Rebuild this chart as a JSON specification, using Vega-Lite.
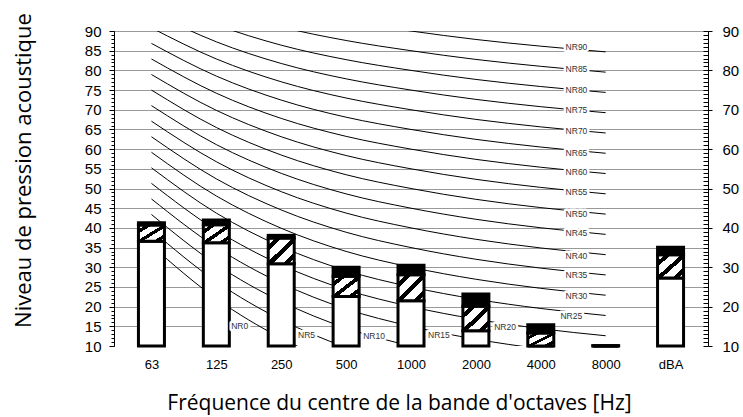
{
  "$schema": "https://vega.github.io/schema/vega-lite/v6.json",
  "autosize": {"type": "none"},
  "width": 594,
  "height": 315,
  "padding": {"left": 114, "top": 31, "right": 35, "bottom": 71},
  "background": "white",
  "config": {"view": {"stroke": null}},
  "datasets": {
    "curves": [
      {"n":"NR0","i":0,"L":35.5},{"n":"NR0","i":1,"L":22},{"n":"NR0","i":2,"L":12},{"n":"NR0","i":3,"L":4.8},{"n":"NR0","i":4,"L":0},{"n":"NR0","i":5,"L":-3.5},{"n":"NR0","i":6,"L":-6.1},{"n":"NR0","i":7,"L":-8},
      {"n":"NR5","i":0,"L":39.45},{"n":"NR5","i":1,"L":26.35},{"n":"NR5","i":2,"L":16.65},{"n":"NR5","i":3,"L":9.67},{"n":"NR5","i":4,"L":5},{"n":"NR5","i":5,"L":1.58},{"n":"NR5","i":6,"L":-0.98},{"n":"NR5","i":7,"L":-2.85},
      {"n":"NR10","i":0,"L":43.4},{"n":"NR10","i":1,"L":30.7},{"n":"NR10","i":2,"L":21.3},{"n":"NR10","i":3,"L":14.54},{"n":"NR10","i":4,"L":10},{"n":"NR10","i":5,"L":6.65},{"n":"NR10","i":6,"L":4.15},{"n":"NR10","i":7,"L":2.3},
      {"n":"NR15","i":0,"L":47.35},{"n":"NR15","i":1,"L":35.05},{"n":"NR15","i":2,"L":25.95},{"n":"NR15","i":3,"L":19.41},{"n":"NR15","i":4,"L":15},{"n":"NR15","i":5,"L":11.73},{"n":"NR15","i":6,"L":9.28},{"n":"NR15","i":7,"L":7.45},
      {"n":"NR20","i":0,"L":51.3},{"n":"NR20","i":1,"L":39.4},{"n":"NR20","i":2,"L":30.6},{"n":"NR20","i":3,"L":24.28},{"n":"NR20","i":4,"L":20},{"n":"NR20","i":5,"L":16.8},{"n":"NR20","i":6,"L":14.4},{"n":"NR20","i":7,"L":12.6},
      {"n":"NR25","i":0,"L":55.25},{"n":"NR25","i":1,"L":43.75},{"n":"NR25","i":2,"L":35.25},{"n":"NR25","i":3,"L":29.15},{"n":"NR25","i":4,"L":25},{"n":"NR25","i":5,"L":21.88},{"n":"NR25","i":6,"L":19.53},{"n":"NR25","i":7,"L":17.75},
      {"n":"NR30","i":0,"L":59.2},{"n":"NR30","i":1,"L":48.1},{"n":"NR30","i":2,"L":39.9},{"n":"NR30","i":3,"L":34.02},{"n":"NR30","i":4,"L":30},{"n":"NR30","i":5,"L":26.95},{"n":"NR30","i":6,"L":24.65},{"n":"NR30","i":7,"L":22.9},
      {"n":"NR35","i":0,"L":63.15},{"n":"NR35","i":1,"L":52.45},{"n":"NR35","i":2,"L":44.55},{"n":"NR35","i":3,"L":38.89},{"n":"NR35","i":4,"L":35},{"n":"NR35","i":5,"L":32.03},{"n":"NR35","i":6,"L":29.78},{"n":"NR35","i":7,"L":28.05},
      {"n":"NR40","i":0,"L":67.1},{"n":"NR40","i":1,"L":56.8},{"n":"NR40","i":2,"L":49.2},{"n":"NR40","i":3,"L":43.76},{"n":"NR40","i":4,"L":40},{"n":"NR40","i":5,"L":37.1},{"n":"NR40","i":6,"L":34.9},{"n":"NR40","i":7,"L":33.2},
      {"n":"NR45","i":0,"L":71.05},{"n":"NR45","i":1,"L":61.15},{"n":"NR45","i":2,"L":53.85},{"n":"NR45","i":3,"L":48.63},{"n":"NR45","i":4,"L":45},{"n":"NR45","i":5,"L":42.18},{"n":"NR45","i":6,"L":40.03},{"n":"NR45","i":7,"L":38.35},
      {"n":"NR50","i":0,"L":75},{"n":"NR50","i":1,"L":65.5},{"n":"NR50","i":2,"L":58.5},{"n":"NR50","i":3,"L":53.5},{"n":"NR50","i":4,"L":50},{"n":"NR50","i":5,"L":47.25},{"n":"NR50","i":6,"L":45.15},{"n":"NR50","i":7,"L":43.5},
      {"n":"NR55","i":0,"L":78.95},{"n":"NR55","i":1,"L":69.85},{"n":"NR55","i":2,"L":63.15},{"n":"NR55","i":3,"L":58.37},{"n":"NR55","i":4,"L":55},{"n":"NR55","i":5,"L":52.33},{"n":"NR55","i":6,"L":50.28},{"n":"NR55","i":7,"L":48.65},
      {"n":"NR60","i":0,"L":82.9},{"n":"NR60","i":1,"L":74.2},{"n":"NR60","i":2,"L":67.8},{"n":"NR60","i":3,"L":63.24},{"n":"NR60","i":4,"L":60},{"n":"NR60","i":5,"L":57.4},{"n":"NR60","i":6,"L":55.4},{"n":"NR60","i":7,"L":53.8},
      {"n":"NR65","i":0,"L":86.85},{"n":"NR65","i":1,"L":78.55},{"n":"NR65","i":2,"L":72.45},{"n":"NR65","i":3,"L":68.11},{"n":"NR65","i":4,"L":65},{"n":"NR65","i":5,"L":62.48},{"n":"NR65","i":6,"L":60.53},{"n":"NR65","i":7,"L":58.95},
      {"n":"NR70","i":0,"L":90.8},{"n":"NR70","i":1,"L":82.9},{"n":"NR70","i":2,"L":77.1},{"n":"NR70","i":3,"L":72.98},{"n":"NR70","i":4,"L":70},{"n":"NR70","i":5,"L":67.55},{"n":"NR70","i":6,"L":65.65},{"n":"NR70","i":7,"L":64.1},
      {"n":"NR75","i":0,"L":94.75},{"n":"NR75","i":1,"L":87.25},{"n":"NR75","i":2,"L":81.75},{"n":"NR75","i":3,"L":77.85},{"n":"NR75","i":4,"L":75},{"n":"NR75","i":5,"L":72.63},{"n":"NR75","i":6,"L":70.78},{"n":"NR75","i":7,"L":69.25},
      {"n":"NR80","i":0,"L":98.7},{"n":"NR80","i":1,"L":91.6},{"n":"NR80","i":2,"L":86.4},{"n":"NR80","i":3,"L":82.72},{"n":"NR80","i":4,"L":80},{"n":"NR80","i":5,"L":77.7},{"n":"NR80","i":6,"L":75.9},{"n":"NR80","i":7,"L":74.4},
      {"n":"NR85","i":0,"L":102.65},{"n":"NR85","i":1,"L":95.95},{"n":"NR85","i":2,"L":91.05},{"n":"NR85","i":3,"L":87.59},{"n":"NR85","i":4,"L":85},{"n":"NR85","i":5,"L":82.78},{"n":"NR85","i":6,"L":81.03},{"n":"NR85","i":7,"L":79.55},
      {"n":"NR90","i":0,"L":106.6},{"n":"NR90","i":1,"L":100.3},{"n":"NR90","i":2,"L":95.7},{"n":"NR90","i":3,"L":92.46},{"n":"NR90","i":4,"L":90},{"n":"NR90","i":5,"L":87.85},{"n":"NR90","i":6,"L":86.15},{"n":"NR90","i":7,"L":84.7}
    ],
    "bars": [
      {"f":"63","i":0,"w":36.6,"h":40.7,"t":41.3},
      {"f":"125","i":1,"w":36.2,"h":40.8,"t":42.0},
      {"f":"250","i":2,"w":30.9,"h":37.4,"t":38.1},
      {"f":"500","i":3,"w":22.6,"h":27.7,"t":30.0},
      {"f":"1000","i":4,"w":21.5,"h":28.1,"t":30.5},
      {"f":"2000","i":5,"w":13.9,"h":20.1,"t":23.2},
      {"f":"4000","i":6,"w":10,"h":13.3,"t":15.4},
      {"f":"8000","i":7,"w":10,"h":10,"t":10.1},
      {"f":"dBA","i":8,"w":27.3,"h":33.2,"t":35.1}
    ],
    "labels": [
      {"n":"NR90","i":6.55,"y":85.9},
      {"n":"NR85","i":6.55,"y":80.4},
      {"n":"NR80","i":6.55,"y":75.1},
      {"n":"NR75","i":6.55,"y":70.0},
      {"n":"NR70","i":6.55,"y":64.5},
      {"n":"NR65","i":6.55,"y":59.0},
      {"n":"NR60","i":6.55,"y":54.1},
      {"n":"NR55","i":6.55,"y":49.0},
      {"n":"NR50","i":6.55,"y":43.6},
      {"n":"NR45","i":6.55,"y":38.6},
      {"n":"NR40","i":6.55,"y":32.8},
      {"n":"NR35","i":6.55,"y":28.1},
      {"n":"NR30","i":6.55,"y":22.8},
      {"n":"NR25","i":6.47,"y":17.6},
      {"n":"NR20","i":5.45,"y":14.7},
      {"n":"NR15","i":4.43,"y":12.7},
      {"n":"NR10","i":3.43,"y":12.5},
      {"n":"NR5","i":2.39,"y":12.7},
      {"n":"NR0","i":1.36,"y":15.0}
    ]
  },
  "encoding": {
    "x": {"field": "i", "type": "quantitative", "scale": {"domain": [-0.5, 8.5], "nice": false, "zero": false},
      "axis": {"values": [0,1,2,3,4,5,6,7,8], "labelExpr": "['63','125','250','500','1000','2000','4000','8000','dBA'][datum.value]", "ticks": false, "domain": false, "grid": false, "labelFont": "Liberation Sans", "labelFontSize": 13, "labelColor": "#000", "labelPadding": 12, "labelFlush": false, "labelOverlap": false,
        "title": "Fréquence du centre de la bande d'octaves [Hz]", "titleFont": "Open Sans", "titleFontSize": 21, "titleFontWeight": "normal", "titleColor": "#000", "titleX": 285, "titleY": 63, "titleAlign": "center", "titleBaseline": "alphabetic"}}
  },
  "resolve": {"axis": {"y": "independent"}},
  "layer": [
    {
      "data": {"name": "curves"},
      "mark": {"type": "line", "interpolate": "monotone", "color": "black", "strokeWidth": 1, "clip": true},
      "encoding": {
        "y": {"field": "L", "type": "quantitative", "scale": {"domain": [10, 90], "nice": false, "zero": false},
          "axis": {"orient": "left", "values": [10,15,20,25,30,35,40,45,50,55,60,65,70,75,80,85,90], "grid": false, "domainColor": "#000", "domainWidth": 1, "tickColor": "#000", "tickSize": 5, "labelPadding": 8, "labelFont": "Liberation Sans", "labelFontSize": 15, "labelColor": "#000", "labelFlush": false, "labelOverlap": false,
            "title": "Niveau de pression acoustique", "titleFont": "Open Sans", "titleFontSize": 22, "titleFontWeight": "normal", "titleColor": "#000", "titleX": -84, "titleY": 139, "titleAngle": 270, "titleAlign": "center", "titleBaseline": "alphabetic"}},
        "detail": {"field": "n"}
      }
    },
    {
      "data": {"name": "bars"},
      "mark": {"type": "bar", "width": 26, "fill": "white", "stroke": "black", "strokeWidth": 3, "strokeJoin": "miter"},
      "encoding": {
        "y": {"field": "w", "type": "quantitative", "scale": {"domain": [10, 90], "nice": false, "zero": false},
          "axis": {"orient": "left", "values": [15,20,25,30,35,40,45,50,55,60,65,70,75,80,85,90], "grid": true, "gridColor": "#999999", "gridWidth": 1, "ticks": false, "labels": false, "domain": false, "title": null}},
        "y2": {"datum": 10}
      }
    },
    {
      "data": {"name": "bars"},
      "mark": {"type": "bar", "width": 26, "stroke": "black", "strokeWidth": 3, "strokeJoin": "miter",
        "fill": {"gradient": "linear", "x1": 0, "y1": 0, "x2": 1, "y2": 1, "stops": [
          {"offset": 0, "color": "white"}, {"offset": 0.14, "color": "white"}, {"offset": 0.14, "color": "black"}, {"offset": 0.26, "color": "black"}, {"offset": 0.26, "color": "white"},
          {"offset": 0.46, "color": "white"}, {"offset": 0.46, "color": "black"}, {"offset": 0.58, "color": "black"}, {"offset": 0.58, "color": "white"},
          {"offset": 0.78, "color": "white"}, {"offset": 0.78, "color": "black"}, {"offset": 0.9, "color": "black"}, {"offset": 0.9, "color": "white"}, {"offset": 1, "color": "white"}]}},
      "encoding": {
        "y": {"field": "h", "type": "quantitative", "scale": {"domain": [10, 90], "nice": false, "zero": false},
          "axis": {"orient": "left", "values": [10,11,12,13,14,15,16,17,18,19,20,21,22,23,24,25,26,27,28,29,30,31,32,33,34,35,36,37,38,39,40,41,42,43,44,45,46,47,48,49,50,51,52,53,54,55,56,57,58,59,60,61,62,63,64,65,66,67,68,69,70,71,72,73,74,75,76,77,78,79,80,81,82,83,84,85,86,87,88,89,90], "grid": false, "ticks": true, "tickSize": 3, "tickColor": "#000", "labels": false, "domain": false, "title": null}},
        "y2": {"field": "w"}
      }
    },
    {
      "data": {"name": "bars"},
      "mark": {"type": "bar", "width": 26, "fill": "black", "stroke": "black", "strokeWidth": 3, "strokeJoin": "miter"},
      "encoding": {
        "y": {"field": "t", "type": "quantitative", "scale": {"domain": [10, 90], "nice": false, "zero": false},
          "axis": {"orient": "right", "values": [10,20,30,40,50,60,70,80,90], "grid": false, "domain": true, "domainColor": "#000", "tickColor": "#000", "tickSize": 4, "labelPadding": 10, "labelFont": "Liberation Sans", "labelFontSize": 15, "labelColor": "#000", "labelFlush": false, "labelOverlap": false, "title": null}},
        "y2": {"field": "h"}
      }
    },
    {
      "data": {"name": "labels"},
      "mark": {"type": "text", "font": "Liberation Sans", "fontSize": 8.5, "fill": "white", "stroke": "white", "strokeWidth": 5, "strokeJoin": "round", "align": "center", "baseline": "middle"},
      "encoding": {
        "y": {"field": "y", "type": "quantitative", "scale": {"domain": [10, 90], "nice": false, "zero": false},
          "axis": {"orient": "right", "values": [10,11,12,13,14,15,16,17,18,19,20,21,22,23,24,25,26,27,28,29,30,31,32,33,34,35,36,37,38,39,40,41,42,43,44,45,46,47,48,49,50,51,52,53,54,55,56,57,58,59,60,61,62,63,64,65,66,67,68,69,70,71,72,73,74,75,76,77,78,79,80,81,82,83,84,85,86,87,88,89,90], "grid": false, "ticks": true, "tickSize": -5, "tickColor": "#000", "labels": false, "domain": false, "title": null}},
        "text": {"field": "n"}
      }
    },
    {
      "data": {"name": "labels"},
      "mark": {"type": "text", "font": "Liberation Sans", "fontSize": 8.5, "fill": "#333333", "align": "center", "baseline": "middle"},
      "encoding": {
        "y": {"field": "y", "type": "quantitative", "scale": {"domain": [10, 90], "nice": false, "zero": false}, "axis": null},
        "text": {"field": "n"}
      }
    }
  ]
}
